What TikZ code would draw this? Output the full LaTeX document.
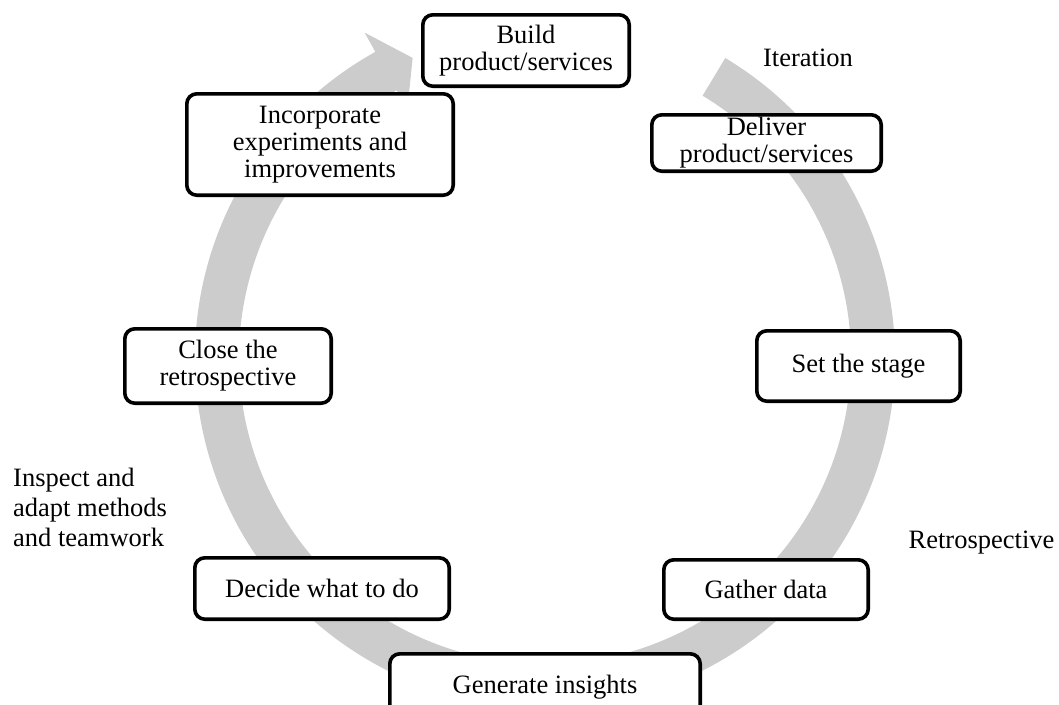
\documentclass[tikz,border=0pt]{standalone}
\usepackage{fontspec}
\setmainfont{Liberation Serif}
\definecolor{ringgray}{RGB}{204,204,204}
\begin{document}
\begin{tikzpicture}[x=1pt,y=-1pt,
  txt/.style={font=\fontsize{26.5}{27}\selectfont},
  stepbox/.style={txt, draw=black, line width=3.6pt, rounded corners=10pt,
    fill=white, align=center, inner sep=0pt},
  plainlabel/.style={inner sep=0pt, font=\fontsize{26.5}{30}\selectfont}]
\useasboundingbox (0,0) rectangle (1059,704);

% the circular arrow running clockwise behind the steps
\fill[ringgray, shift={(545,358)}]
  (-59:350) arc[start angle=-59, end angle=241, radius=350]
  -- (241:372) -- (246.2:328) -- (241:284) -- (241:306)
  arc[start angle=241, end angle=-59, radius=306] -- cycle;

% steps of the cycle
\node[stepbox, minimum width=206.4pt, minimum height=71.4pt] (build) at (526,50.5) {Build\\product/services};
\node[stepbox, minimum width=229.4pt, minimum height=56.4pt] (deliver) at (766.5,143) {Deliver\\product/services};
\node[stepbox, minimum width=203.4pt, minimum height=70.4pt] (stage) at (858.5,366) {Set the stage};
\node[stepbox, minimum width=204.4pt, minimum height=59.4pt] (gather) at (766,589.5) {Gather data};
\node[stepbox, minimum width=310.4pt, minimum height=66.4pt] (insights) at (545,687) {Generate insights};
\node[stepbox, minimum width=254.4pt, minimum height=61.4pt] (decide) at (322,588.5) {Decide what to do};
\node[stepbox, minimum width=206.4pt, minimum height=74.4pt] (close) at (228,366) {Close the\\retrospective};
\node[stepbox, minimum width=266.4pt, minimum height=101.4pt] (incorp) at (320,144.5) {Incorporate\\experiments and\\improvements};

% phase labels
\node[plainlabel] (iteration) at (808,58) {Iteration};
\node[plainlabel, anchor=base] (retro) at (981.5,548) {Retrospective};
\node[plainlabel, anchor=west, align=left] (inspect) at (13,507) {Inspect and\\adapt methods\\and teamwork};
\end{tikzpicture}
\end{document}
